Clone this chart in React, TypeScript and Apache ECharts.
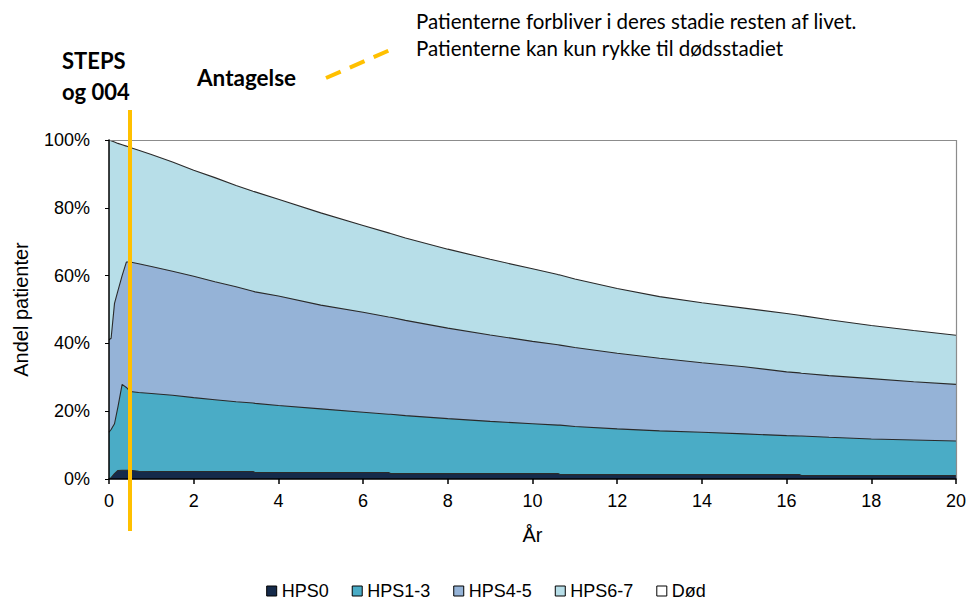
import React, { useEffect, useRef } from "react";
import * as echarts from "echarts";

// Years (x values) at which the stacked shares were read
const years = [0, 0.05, 0.13, 0.21, 0.31, 0.41, 0.5, 0.7, 1, 1.5, 2, 2.5, 3, 3.4, 3.45, 4, 5, 6, 6.6, 6.65, 7, 8, 9, 10, 10.6, 10.65, 11, 12, 13, 14, 15, 16, 16.3, 16.35, 17, 18, 19, 20];

// Share of patients (%) in each stage
const hps0 = [0, 0.4, 1.6, 2.5, 2.6, 2.6, 2.6, 2.3, 2.2, 2.2, 2.2, 2.2, 2.2, 2.2, 1.9, 1.9, 1.9, 1.9, 1.9, 1.6, 1.6, 1.6, 1.6, 1.6, 1.6, 1.3, 1.3, 1.3, 1.3, 1.3, 1.3, 1.3, 1.3, 1.0, 1.0, 1.0, 1.0, 1.0];
const hps13 = [13.8, 14.2, 14.7, 18.7, 25.3, 24.4, 23.2, 23.2, 23.0, 22.5, 21.8, 21.2, 20.6, 20.2, 20.4, 19.8, 18.8, 17.8, 17.2, 17.5, 17.1, 16.2, 15.4, 14.7, 14.3, 14.6, 14.2, 13.5, 12.9, 12.5, 12.0, 11.5, 11.4, 11.7, 11.3, 10.8, 10.5, 10.2];
const hps45 = [27.3, 26.9, 35.5, 34.3, 32.1, 37.0, 38.2, 38.0, 37.5, 36.6, 35.8, 34.8, 33.9, 33.0, 32.9, 32.3, 30.6, 29.5, 28.7, 28.6, 28.1, 26.7, 25.5, 24.3, 23.7, 23.6, 23.3, 22.3, 21.4, 20.5, 19.8, 18.8, 18.6, 18.5, 18.2, 17.8, 17.2, 16.7];
const hps67 = [58.9, 58.3, 47.6, 43.5, 38.6, 34.2, 33.8, 33.5, 33.0, 32.2, 31.3, 30.7, 29.9, 29.5, 29.5, 28.5, 27.2, 25.6, 24.8, 24.7, 24.3, 23.3, 22.3, 21.4, 20.7, 20.7, 20.2, 19.1, 18.2, 17.7, 17.3, 17.2, 17.0, 17.0, 16.5, 15.7, 15.1, 14.5];
const dod = [0, 0.2, 0.6, 1.0, 1.4, 1.8, 2.2, 3.0, 4.3, 6.5, 8.9, 11.1, 13.4, 15.1, 15.3, 17.5, 21.5, 25.2, 27.4, 27.6, 28.9, 32.2, 35.2, 38.0, 39.7, 39.8, 41.0, 43.8, 46.2, 48.0, 49.6, 51.2, 51.7, 51.8, 53.0, 54.7, 56.2, 57.6];

const seriesNames = ["HPS0", "HPS1-3", "HPS4-5", "HPS6-7", "Død"];
const seriesColors = ["#152a4a", "#4aacc6", "#95b3d7", "#b7dee8", "#ffffff"];
const seriesValues = [hps0, hps13, hps45, hps67, dod];

const xTickInterval = 2;
const yTickInterval = 20;

const annotationTitle = ["STEPS", "og 004"];
const annotationAssumption = "Antagelse";
const annotationNote = [
  "Patienterne forbliver i deres stadie resten af livet.",
  "Patienterne kan kun rykke til dødsstadiet",
];

const AXIS_FONT = "'Liberation Sans', Arial, sans-serif";
const NOTE_FONT = "Lato, 'Open Sans', sans-serif";
const YELLOW = "#ffc000";

const GRID = { left: 109, right: 16, top: 140, bottom: 121 };
const W = 972;
const H = 600;

export default function App() {
  const ref = useRef<HTMLDivElement>(null);

  useEffect(() => {
    document.body.style.margin = "0";
    const chart = echarts.init(ref.current!, null, { renderer: "svg" });

    // cumulative upper boundary of each stage (stage k sits on top of stages 0..k-1)
    const cumulative = seriesValues.map((_, k) =>
      years.map((_, i) => {
        let s = 0;
        for (let j = 0; j <= k; j++) s += seriesValues[j][i];
        return Math.round(s * 100) / 100;
      })
    );

    // draw from the top stage down so that lower stages paint over higher ones
    const order = [4, 3, 2, 1, 0];
    const series = order.map((k) => ({
      name: seriesNames[k],
      type: "line",
      data: years.map((t, i) => [t, cumulative[k][i]]),
      symbol: "none",
      showSymbol: false,
      color: seriesColors[k],
      itemStyle: { color: seriesColors[k], borderColor: "#000", borderWidth: 1 },
      lineStyle: k === 4 ? { width: 0, opacity: 0 } : { color: "#2a2a2a", width: 1.1 },
      areaStyle: { color: seriesColors[k], opacity: k === 4 ? 0 : 1, origin: "start" },
      emphasis: { disabled: true },
      z: 2,
    }));

    const right = W - GRID.right;
    const bottom = H - GRID.bottom;

    chart.setOption({
      animation: false,
      backgroundColor: "#ffffff",
      grid: { ...GRID, show: false },
      xAxis: {
        type: "value",
        min: 0,
        max: 20,
        interval: xTickInterval,
        name: "År",
        nameLocation: "middle",
        nameGap: 46,
        nameTextStyle: { fontFamily: AXIS_FONT, fontSize: 20, color: "#000" },
        axisLine: { show: true, lineStyle: { color: "#000", width: 1.5 } },
        axisTick: { show: true, length: 5, lineStyle: { color: "#000", width: 1.5 } },
        axisLabel: { fontFamily: AXIS_FONT, fontSize: 18, color: "#000", margin: 13 },
        splitLine: { show: false },
        z: 5,
      },
      yAxis: {
        type: "value",
        min: 0,
        max: 100,
        interval: yTickInterval,
        name: "Andel patienter",
        nameLocation: "middle",
        nameGap: 78,
        nameTextStyle: { fontFamily: AXIS_FONT, fontSize: 20, color: "#000" },
        axisLine: { show: true, lineStyle: { color: "#000", width: 1.5 } },
        axisTick: { show: true, length: 4, lineStyle: { color: "#000", width: 1 } },
        axisLabel: { fontFamily: AXIS_FONT, fontSize: 18, color: "#000", margin: 19, formatter: "{value}%" },
        splitLine: { show: false },
        z: 5,
      },
      legend: {
        data: seriesNames,
        left: "center",
        top: 577,
        icon: "rect",
        itemWidth: 10,
        itemHeight: 10,
        itemGap: 23,
        selectedMode: false,
        itemStyle: { borderColor: "#000", borderWidth: 1 },
        textStyle: { fontFamily: AXIS_FONT, fontSize: 18, color: "#000" },
      },
      series,
      graphic: [
        {
          type: "polyline",
          shape: { points: [[GRID.left, GRID.top + 0.5], [right + 0.5, GRID.top + 0.5], [right + 0.5, bottom]] },
          style: { stroke: "#8c8c8c", lineWidth: 1.2, fill: null },
          z: 4,
        },
        {
          type: "text",
          left: 62,
          top: 45,
          style: {
            text: annotationTitle.join("\n"),
            font: `bold 22px ${NOTE_FONT}`,
            fill: "#000",
            lineHeight: 31,
          },
        },
        {
          type: "text",
          left: 197,
          top: 66,
          style: { text: annotationAssumption, font: `bold 22.5px ${NOTE_FONT}`, fill: "#000" },
        },
        {
          type: "text",
          left: 416,
          top: 7,
          style: {
            text: annotationNote.join("\n"),
            font: `20.5px ${NOTE_FONT}`,
            fill: "#000",
            lineHeight: 27,
          },
        },
        {
          type: "line",
          shape: { x1: 326, y1: 78, x2: 397, y2: 47 },
          style: { stroke: YELLOW, lineWidth: 4, lineDash: [16, 10] },
          z: 10,
        },
        {
          type: "line",
          shape: { x1: 130, y1: 110, x2: 130, y2: 531 },
          style: { stroke: YELLOW, lineWidth: 4 },
          z: 10,
        },
      ],
    });

    return () => chart.dispose();
  }, []);

  return <div ref={ref} style={{ width: W, height: H }} />;
}
